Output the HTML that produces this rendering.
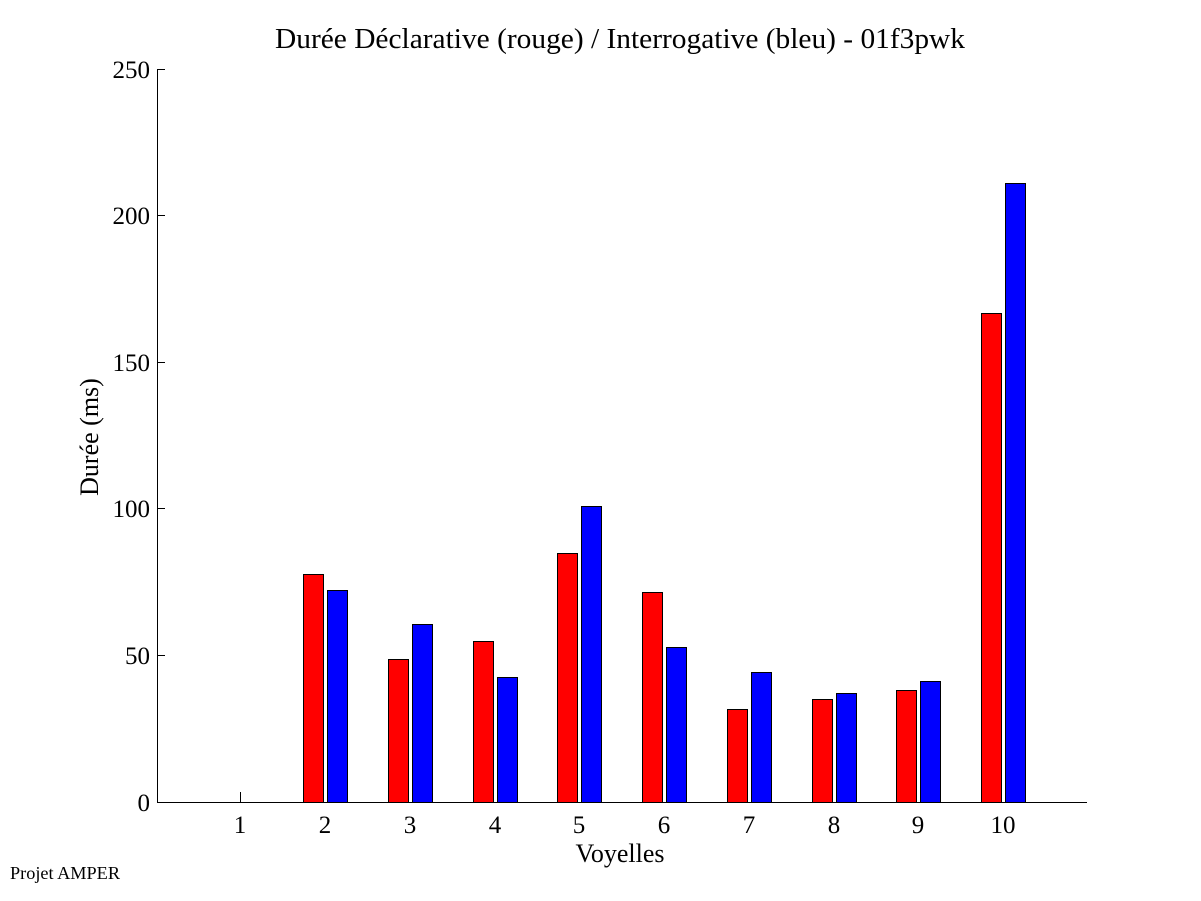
<!DOCTYPE html>
<html><head><style>body{margin:0;background:#fff}svg{display:block}</style></head><body>
<svg width="1201" height="901" xmlns="http://www.w3.org/2000/svg" font-family="Liberation Serif, serif">
<rect width="1201" height="901" fill="#fff"/>
<g stroke="#000" stroke-width="1" shape-rendering="crispEdges">
<line x1="157.5" y1="69" x2="157.5" y2="802"/>
<line x1="157" y1="802.5" x2="1087" y2="802.5"/>
<line x1="157" y1="69.5" x2="165" y2="69.5"/>
<line x1="157" y1="215.5" x2="165" y2="215.5"/>
<line x1="157" y1="362.5" x2="165" y2="362.5"/>
<line x1="157" y1="508.5" x2="165" y2="508.5"/>
<line x1="157" y1="655.5" x2="165" y2="655.5"/>
<line x1="240.5" y1="792" x2="240.5" y2="802"/>
</g>
<g stroke="#000" stroke-width="1" shape-rendering="crispEdges">
<rect x="303.5" y="574.5" width="20" height="228" fill="#f00"/>
<rect x="327.5" y="590.5" width="20" height="212" fill="#00f"/>
<rect x="388.5" y="659.5" width="20" height="143" fill="#f00"/>
<rect x="412.5" y="624.5" width="20" height="178" fill="#00f"/>
<rect x="473.5" y="641.5" width="20" height="161" fill="#f00"/>
<rect x="497.5" y="677.5" width="20" height="125" fill="#00f"/>
<rect x="557.5" y="553.5" width="20" height="249" fill="#f00"/>
<rect x="581.5" y="506.5" width="20" height="296" fill="#00f"/>
<rect x="642.5" y="592.5" width="20" height="210" fill="#f00"/>
<rect x="666.5" y="647.5" width="20" height="155" fill="#00f"/>
<rect x="727.5" y="709.5" width="20" height="93" fill="#f00"/>
<rect x="751.5" y="672.5" width="20" height="130" fill="#00f"/>
<rect x="812.5" y="699.5" width="20" height="103" fill="#f00"/>
<rect x="836.5" y="693.5" width="20" height="109" fill="#00f"/>
<rect x="896.5" y="690.5" width="20" height="112" fill="#f00"/>
<rect x="920.5" y="681.5" width="20" height="121" fill="#00f"/>
<rect x="981.5" y="313.5" width="20" height="489" fill="#f00"/>
<rect x="1005.5" y="183.5" width="20" height="619" fill="#00f"/>
</g>
<g font-size="25" text-anchor="end" fill="#000">
<text x="150" y="78">250</text>
<text x="150" y="224">200</text>
<text x="150" y="371">150</text>
<text x="150" y="517">100</text>
<text x="150" y="664">50</text>
<text x="150" y="811">0</text>
</g>
<g font-size="25" text-anchor="middle" fill="#000">
<text x="240" y="833">1</text>
<text x="325" y="833">2</text>
<text x="410" y="833">3</text>
<text x="495" y="833">4</text>
<text x="579" y="833">5</text>
<text x="664" y="833">6</text>
<text x="749" y="833">7</text>
<text x="834" y="833">8</text>
<text x="918" y="833">9</text>
<text x="1003" y="833">10</text>
<text x="620" y="862" font-size="26">Voyelles</text>
<text x="620" y="48" font-size="28" textLength="690" lengthAdjust="spacingAndGlyphs">Durée Déclarative (rouge) / Interrogative (bleu) - 01f3pwk</text>
<text transform="translate(98,437) rotate(-90)" font-size="26">Durée (ms)</text>
</g>
<text x="10" y="879" font-size="18" textLength="110" lengthAdjust="spacingAndGlyphs" fill="#000">Projet AMPER</text>
</svg>
</body></html>
